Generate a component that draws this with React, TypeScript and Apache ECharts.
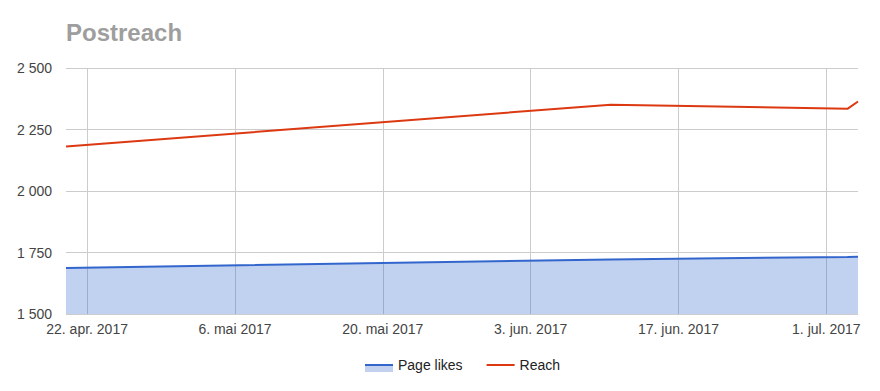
import React, { useEffect, useRef } from "react";
import * as echarts from "echarts";

const chartTitle = "Postreach";
const seriesNames = ["Page likes", "Reach"];
const pointDates = ["2017-04-20 00", "2017-06-10 14", "2017-07-03 00", "2017-07-04 00"];
const pageLikes = [1687, 1722, 1732, 1733];
const reach = [2181, 2351, 2334, 2364];
const xTickDates = ["2017-04-22", "2017-05-06", "2017-05-20", "2017-06-03", "2017-06-17", "2017-07-01"];
const xRange = ["2017-04-20", "2017-07-04"];
const yMin = 1500;
const yMax = 2500;
const yInterval = 250;
const monthNames = ["jan.", "feb.", "mars", "apr.", "mai", "jun.", "jul.", "aug.", "sep.", "okt.", "nov.", "des."];

const FONT = 'Arial, "Liberation Sans", sans-serif';
const BLUE = "#3366cc";
const RED = "#dc3912";

const ts = (s: string) => {
  const [datePart, hourPart] = s.split(" ");
  const [y, m, d] = datePart.split("-").map(Number);
  return Date.UTC(y, m - 1, d, hourPart ? Number(hourPart) : 0);
};

const fmtDate = (v: number) => {
  const d = new Date(v);
  return `${d.getUTCDate()}. ${monthNames[d.getUTCMonth()]} ${d.getUTCFullYear()}`;
};

const fmtNum = (v: number) => {
  const s = Math.round(v).toString();
  return s.replace(/\B(?=(\d{3})+(?!\d))/g, " ");
};

const legendGrad = (line: string, fill: string) =>
  new echarts.graphic.LinearGradient(0, 0, 0, 1, [
    { offset: 0, color: "rgba(255,255,255,0)" },
    { offset: 0.43, color: "rgba(255,255,255,0)" },
    { offset: 0.43, color: line },
    { offset: 0.57, color: line },
    { offset: 0.57, color: fill },
    { offset: 1, color: fill },
  ]);

export default function App() {
  const ref = useRef<HTMLDivElement>(null);
  useEffect(() => {
    if (!ref.current) return;
    const chart = echarts.init(ref.current, undefined, { renderer: "svg" });
    chart.setOption({
      animation: false,
      textStyle: { fontFamily: FONT },
      title: {
        text: chartTitle,
        left: 66,
        top: 20,
        padding: 0,
        textStyle: { fontFamily: FONT, fontSize: 24, fontWeight: "bold", color: "#9e9e9e" },
      },
      grid: { left: 66, right: 22, top: 68, bottom: 77, containLabel: false },
      legend: {
        left: 365,
        top: 358,
        padding: 0,
        itemWidth: 28,
        itemHeight: 14,
        itemGap: 24,
        textStyle: { fontFamily: FONT, fontSize: 14, color: "#222" },
        data: [
          { name: seriesNames[0], icon: "rect", itemStyle: { color: legendGrad(BLUE, "#c2d1f0"), borderWidth: 0 } },
          { name: seriesNames[1], icon: "rect", itemStyle: { color: legendGrad(RED, "rgba(255,255,255,0)"), borderWidth: 0 } },
        ],
      },
      xAxis: {
        type: "value",
        min: ts(xRange[0]),
        max: ts(xRange[1]),
        axisLine: { show: false },
        axisTick: { show: false, customValues: xTickDates.map(ts) },
        axisLabel: {
          customValues: xTickDates.map(ts),
          formatter: (v: number) => fmtDate(v),
          fontFamily: FONT,
          fontSize: 14,
          color: "#444",
          margin: 8,
        },
        splitLine: { show: true, lineStyle: { color: "#cccccc", width: 1 } },
      },
      yAxis: {
        type: "value",
        min: yMin,
        max: yMax,
        interval: yInterval,
        axisLine: { show: false },
        axisTick: { show: false },
        axisLabel: {
          formatter: (v: number) => fmtNum(v),
          fontFamily: FONT,
          fontSize: 14,
          color: "#444",
          margin: 14,
        },
        splitLine: { show: true, lineStyle: { color: "#cccccc", width: 1 } },
      },
      series: [
        {
          name: seriesNames[0],
          type: "line",
          data: pointDates.map((d, i) => [ts(d), pageLikes[i]]),
          showSymbol: false,
          symbol: "none",
          lineStyle: { color: BLUE, width: 2 },
          itemStyle: { color: BLUE },
          areaStyle: { color: BLUE, opacity: 0.3, origin: "start" },
          z: 3,
        },
        {
          name: seriesNames[1],
          type: "line",
          data: pointDates.map((d, i) => [ts(d), reach[i]]),
          showSymbol: false,
          symbol: "none",
          lineStyle: { color: RED, width: 2 },
          itemStyle: { color: RED },
          z: 3,
        },
      ],
    });
    return () => chart.dispose();
  }, []);
  return <div ref={ref} style={{ width: 880, height: 391, position: "absolute", left: 0, top: 0 }} />;
}
